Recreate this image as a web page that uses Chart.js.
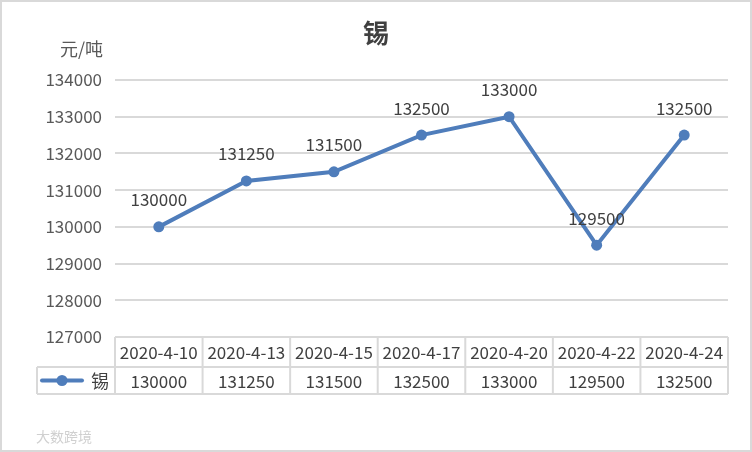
<!DOCTYPE html>
<html>
<head>
<meta charset="utf-8">
<script src="https://cdn.jsdelivr.net/npm/chart.js@4.4.0/dist/chart.umd.min.js"></script>
<style>
    html, body { margin: 0; padding: 0; background: #fff; }
    #wrap { width: 752px; height: 452px; position: relative; }
</style>
</head>
<body>
<div id="wrap"><canvas id="tin-chart" width="752" height="452"></canvas></div>
<script>
// Données du graphique
const dates = ['2020-4-10', '2020-4-13', '2020-4-15', '2020-4-17', '2020-4-20', '2020-4-22', '2020-4-24'];
const prices = [130000, 131250, 131500, 132500, 133000, 129500, 132500];
const seriesName = '锡';
const chartTitle = '锡';
const unitLabel = '元/吨';
const yMin = 127000;
const yMax = 134000;
const yStep = 1000;

const FONT = '"Noto Sans CJK SC", "Noto Sans", sans-serif';
const TEXT = '#404040';
const GRID = '#d9d9d9';
const LINE = '#4f7dbb';

// Titre, unité, étiquettes, tableau de données
const decorPlugin = {
    id: 'decor',
    afterDraw(chart) {
        const ctx = chart.ctx;
        const area = chart.chartArea;
        const xs = chart.scales.x;
        const meta = chart.getDatasetMeta(0);
        ctx.save();

        // cadre extérieur
        ctx.strokeStyle = GRID;
        ctx.lineWidth = 2;
        ctx.strokeRect(1, 1, chart.width - 2, chart.height - 2);

        // titre
        ctx.fillStyle = TEXT;
        ctx.textAlign = 'center';
        ctx.textBaseline = 'middle';
        ctx.font = 'bold 26px ' + FONT;
        ctx.fillText(chartTitle, chart.width / 2, 33);

        // unité
        ctx.font = '18px ' + FONT;
        ctx.textAlign = 'right';
        ctx.fillStyle = '#595959';
        ctx.fillText(unitLabel, 103, 49);

        // étiquettes de valeurs
        ctx.fillStyle = TEXT;
        ctx.textAlign = 'center';
        ctx.textBaseline = 'middle';
        ctx.font = '17px ' + FONT;
        meta.data.forEach((pt, i) => {
            ctx.fillText(String(prices[i]), pt.x, pt.y - 27);
        });

        // tableau de données
        const top = area.bottom;
        const mid = top + 30;
        const bot = top + 57;
        const legendLeft = 37;
        const colW = (area.right - area.left) / dates.length;
        ctx.strokeStyle = GRID;
        ctx.lineWidth = 2;
        ctx.beginPath();
        ctx.moveTo(area.left, top); ctx.lineTo(area.right, top);
        ctx.moveTo(legendLeft, mid); ctx.lineTo(area.right, mid);
        ctx.moveTo(legendLeft, bot); ctx.lineTo(area.right, bot);
        ctx.moveTo(legendLeft, mid); ctx.lineTo(legendLeft, bot);
        for (let i = 0; i <= dates.length; i++) {
            const x = area.left + i * colW;
            ctx.moveTo(x, top); ctx.lineTo(x, bot);
        }
        ctx.stroke();

        ctx.fillStyle = TEXT;
        ctx.textAlign = 'center';
        ctx.textBaseline = 'middle';
        ctx.font = '17px ' + FONT;
        dates.forEach((d, i) => {
            const cx = xs.getPixelForValue(i);
            ctx.fillText(d, cx, (top + mid) / 2 + 1);
            ctx.fillText(String(prices[i]), cx, (mid + bot) / 2 + 1);
        });

        // légende dans le tableau
        const ly = (mid + bot) / 2;
        ctx.strokeStyle = LINE;
        ctx.lineWidth = 4;
        ctx.lineCap = 'round';
        ctx.beginPath();
        ctx.moveTo(42, ly); ctx.lineTo(82, ly);
        ctx.stroke();
        ctx.fillStyle = LINE;
        ctx.beginPath();
        ctx.arc(62, ly, 5.5, 0, Math.PI * 2);
        ctx.fill();
        ctx.fillStyle = TEXT;
        ctx.textAlign = 'left';
        ctx.font = '18px ' + FONT;
        ctx.fillText(seriesName, 91, ly + 1);

        // filigrane
        ctx.fillStyle = '#d0d0d0';
        ctx.font = '14px ' + FONT;
        ctx.textAlign = 'left';
        ctx.fillText('大数跨境', 36, 437);
        ctx.restore();
    }
};

const ctx = document.getElementById('tin-chart').getContext('2d');
const tinChart = new Chart(ctx, {
    type: 'line',
    data: {
        labels: dates,
        datasets: [{
            label: seriesName,
            data: prices,
            borderColor: LINE,
            backgroundColor: LINE,
            borderWidth: 4,
            pointRadius: 5.5,
            pointHoverRadius: 5.5,
            pointBorderWidth: 0,
            tension: 0
        }]
    },
    options: {
        responsive: false,
        animation: false,
        layout: {
            padding: { top: 80, right: 24, bottom: 115, left: 0 }
        },
        plugins: {
            legend: { display: false },
            title: { display: false },
            tooltip: { enabled: false }
        },
        scales: {
            x: {
                type: 'category',
                offset: true,
                display: false
            },
            y: {
                min: yMin,
                max: yMax,
                afterFit(scale) { scale.width = 115; },
                border: { display: false },
                grid: { color: GRID, lineWidth: 2, drawTicks: false },
                ticks: {
                    stepSize: yStep,
                    padding: 13,
                    color: '#595959',
                    font: { family: FONT, size: 17 },
                    callback: (v) => String(v)
                }
            }
        }
    },
    plugins: [decorPlugin]
});
</script>
</body>
</html>
